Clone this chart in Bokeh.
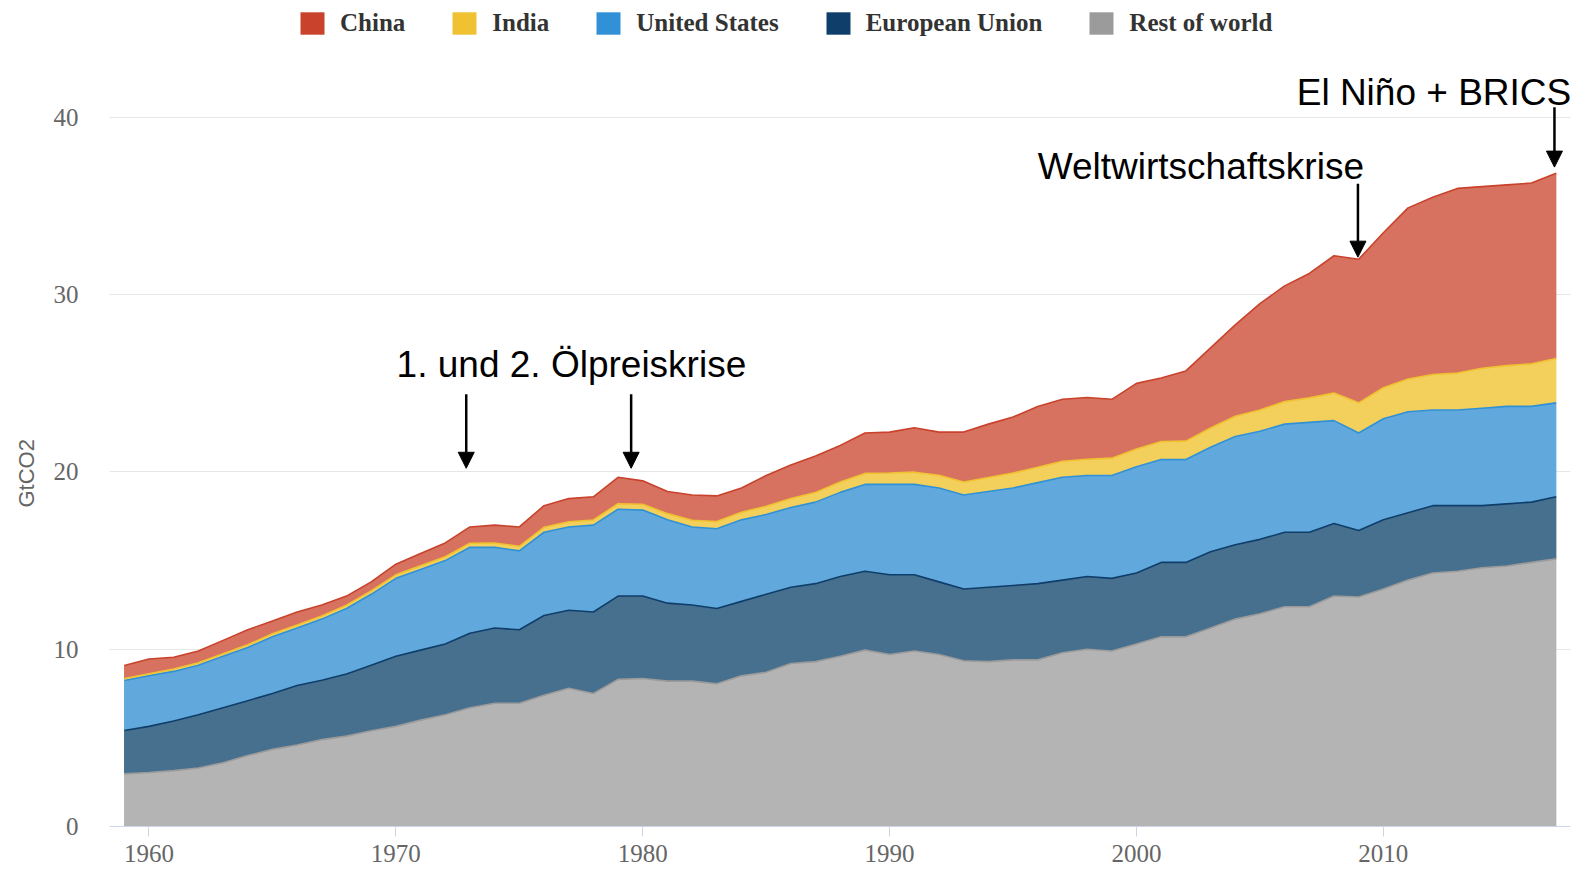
import numpy as np
from bokeh.plotting import figure
from bokeh.models import (ColumnDataSource, Legend, LegendItem, Label, Arrow,
                          NormalHead, FixedTicker, Range1d, Title)
from bokeh.embed import file_html
from bokeh.resources import INLINE

# ---------------- data (GtCO2) ----------------
years = list(range(1959, 2018))

rest_of_world = [2.97, 3.05, 3.15, 3.3, 3.6, 4.0, 4.35, 4.6, 4.9, 5.1,
                 5.4, 5.65, 6.0, 6.3, 6.7, 6.95, 6.95, 7.4, 7.8, 7.5,
                 8.3, 8.35, 8.2, 8.2, 8.05, 8.5, 8.7, 9.2, 9.3, 9.6,
                 9.95, 9.7, 9.9, 9.7, 9.35, 9.3, 9.4, 9.4, 9.8, 10.0,
                 9.9, 10.3, 10.7, 10.7, 11.2, 11.7, 12.0, 12.4, 12.4, 13.0,
                 12.95, 13.4, 13.9, 14.3, 14.4, 14.6, 14.7, 14.9, 15.1]

european_union = [2.45, 2.6, 2.8, 3.0, 3.1, 3.1, 3.15, 3.35, 3.35, 3.5,
                  3.7, 3.95, 3.95, 4.0, 4.2, 4.25, 4.15, 4.5, 4.4, 4.6,
                  4.7, 4.65, 4.4, 4.3, 4.25, 4.2, 4.4, 4.3, 4.4, 4.5,
                  4.45, 4.5, 4.3, 4.1, 4.05, 4.2, 4.2, 4.3, 4.1, 4.1,
                  4.1, 4.0, 4.2, 4.2, 4.3, 4.2, 4.2, 4.2, 4.2, 4.1,
                  3.75, 3.9, 3.8, 3.8, 3.7, 3.5, 3.5, 3.4, 3.5]

united_states = [2.82, 2.85, 2.8, 2.8, 2.9, 3.0, 3.2, 3.25, 3.45, 3.7,
                 4.0, 4.4, 4.55, 4.7, 4.85, 4.55, 4.45, 4.7, 4.7, 4.9,
                 4.9, 4.85, 4.7, 4.4, 4.5, 4.6, 4.5, 4.5, 4.6, 4.75,
                 4.9, 5.1, 5.1, 5.3, 5.3, 5.4, 5.5, 5.7, 5.8, 5.7,
                 5.8, 6.0, 5.8, 5.8, 5.9, 6.1, 6.1, 6.1, 6.2, 5.8,
                 5.5, 5.7, 5.7, 5.4, 5.4, 5.5, 5.5, 5.4, 5.3]

india = [0.11, 0.12, 0.13, 0.14, 0.15, 0.15, 0.17, 0.17, 0.18, 0.19,
         0.19, 0.20, 0.21, 0.22, 0.23, 0.24, 0.26, 0.28, 0.29, 0.29,
         0.31, 0.33, 0.35, 0.38, 0.41, 0.43, 0.47, 0.50, 0.54, 0.58,
         0.62, 0.64, 0.69, 0.72, 0.74, 0.79, 0.84, 0.87, 0.91, 0.92,
         0.98, 1.00, 1.02, 1.04, 1.08, 1.14, 1.20, 1.27, 1.38, 1.55,
         1.70, 1.75, 1.85, 2.00, 2.08, 2.25, 2.30, 2.40, 2.50]

china = [0.73, 0.83, 0.67, 0.66, 0.75, 0.85, 0.73, 0.73, 0.62, 0.51,
         0.51, 0.60, 0.69, 0.78, 0.92, 1.01, 1.09, 1.22, 1.31, 1.31,
         1.49, 1.32, 1.25, 1.42, 1.44, 1.37, 1.73, 1.90, 2.06, 2.07,
         2.28, 2.31, 2.51, 2.43, 2.81, 3.01, 3.16, 3.43, 3.49, 3.48,
         3.32, 3.70, 3.58, 3.96, 4.52, 5.16, 6.00, 6.53, 7.02, 7.75,
         8.10, 8.75, 9.65, 10.00, 10.42, 10.25, 10.20, 10.20, 10.45]

x_ticks = [1960, 1970, 1980, 1990, 2000, 2010]
y_ticks = [0, 10, 20, 30, 40]

legend_order = ["China", "India", "United States", "European Union", "Rest of world"]

# stacking order (bottom to top): name, values, legend colour, area colour
stack = [
    ("Rest of world", rest_of_world, "#9b9b9b", "#b4b4b4"),
    ("European Union", european_union, "#0f3e6a", "#47708f"),
    ("United States", united_states, "#3091d7", "#61a9dc"),
    ("India", india, "#f0c232", "#f3cf5c"),
    ("China", china, "#c9432c", "#d6725f"),
]

# annotations: (text, x-year of text start, baseline value)
notes = [
    ("1. und 2. Ölpreiskrise", 1970.03, 26.08),
    ("Weltwirtschaftskrise", 1996.0, 37.22),
    ("El Niño + BRICS", 2006.49, 41.43),
]
# arrows: (year, start value, tip value)
arrows = [
    (1972.85, 24.38, 20.21),
    (1979.53, 24.38, 20.21),
    (2008.97, 36.26, 32.12),
    (2016.93, 40.58, 37.20),
]

# ---------------- figure ----------------
p = figure(width=1583, height=872,
           x_range=Range1d(1958.4, 2017.58), y_range=Range1d(0, 46.6),
           output_backend="svg", toolbar_location=None,
           min_border_left=109, min_border_right=13,
           min_border_top=0, min_border_bottom=46)
p.outline_line_color = None
p.background_fill_color = "white"
p.border_fill_color = "white"

bottom = np.zeros(len(years))
legend_renderer = {}
line_sources = []
for name, vals, lc, fc in stack:
    top = bottom + np.array(vals, dtype=float)
    src = ColumnDataSource(dict(x=years, y1=bottom.copy(), y2=top))
    # solid layer (legend swatch colour), fully covered by the lighter area
    legend_renderer[name] = p.varea(x="x", y1="y1", y2="y2", source=src,
                                    fill_color=lc)
    p.varea(x="x", y1="y1", y2="y2", source=src, fill_color=fc)
    line_sources.append((src, lc))
    bottom = top

for src, lc in line_sources:
    p.line(x="x", y="y2", source=src, line_color=lc, line_width=1.6)

items = [LegendItem(label=name, renderers=[legend_renderer[name]])
         for name in legend_order]

legend = Legend(items=items, orientation="horizontal", location=(188, 789),
                padding=0, margin=0, spacing=44, label_standoff=13,
                glyph_width=30, glyph_height=28, label_height=24,
                border_line_color=None, background_fill_alpha=0,
                label_text_font="Liberation Serif", label_text_font_style="bold",
                label_text_font_size="25px", label_text_color="#333333")
p.add_layout(legend)

# axes
p.xaxis.ticker = FixedTicker(ticks=x_ticks)
p.xaxis.axis_line_color = "#ccd6eb"
p.xaxis.major_tick_line_color = "#ccd6eb"
p.xaxis.major_tick_in = 0
p.xaxis.major_tick_out = 10
p.xaxis.minor_tick_line_color = None
p.xaxis.major_label_standoff = 8
p.xaxis.major_label_text_font = "Liberation Serif"
p.xaxis.major_label_text_font_size = "25px"
p.xaxis.major_label_text_color = "#666666"

p.yaxis.ticker = FixedTicker(ticks=y_ticks)
p.yaxis.axis_line_color = None
p.yaxis.major_tick_line_color = None
p.yaxis.minor_tick_line_color = None
p.yaxis.major_tick_out = 0
p.yaxis.major_tick_in = 0
p.yaxis.major_label_standoff = 31
p.yaxis.major_label_text_font = "Liberation Serif"
p.yaxis.major_label_text_font_size = "25px"
p.yaxis.major_label_text_color = "#666666"

p.xgrid.visible = False
p.ygrid.ticker = FixedTicker(ticks=y_ticks)
p.ygrid.grid_line_color = "#e6e6e6"
p.ygrid.grid_line_width = 1

# y axis title (placed left of the tick labels)
p.add_layout(Title(text="GtCO2", align="left", offset=319, standoff=23,
                   text_font="Liberation Sans", text_font_size="22px",
                   text_font_style="normal", text_color="#666666"), "left")

# annotations
for txt, xx, yy in notes:
    p.add_layout(Label(x=xx, y=yy, text=txt, text_align="left",
                       text_baseline="alphabetic", text_font="Liberation Sans",
                       text_font_size="37px", text_color="#000000"))
for xx, y0, y1 in arrows:
    p.add_layout(Arrow(x_start=xx, y_start=y0, x_end=xx, y_end=y1,
                       line_color="black", line_width=2.5,
                       end=NormalHead(size=16, fill_color="black",
                                      line_color="black", line_width=1)))

open("out.html", "w").write(file_html(p, INLINE))
